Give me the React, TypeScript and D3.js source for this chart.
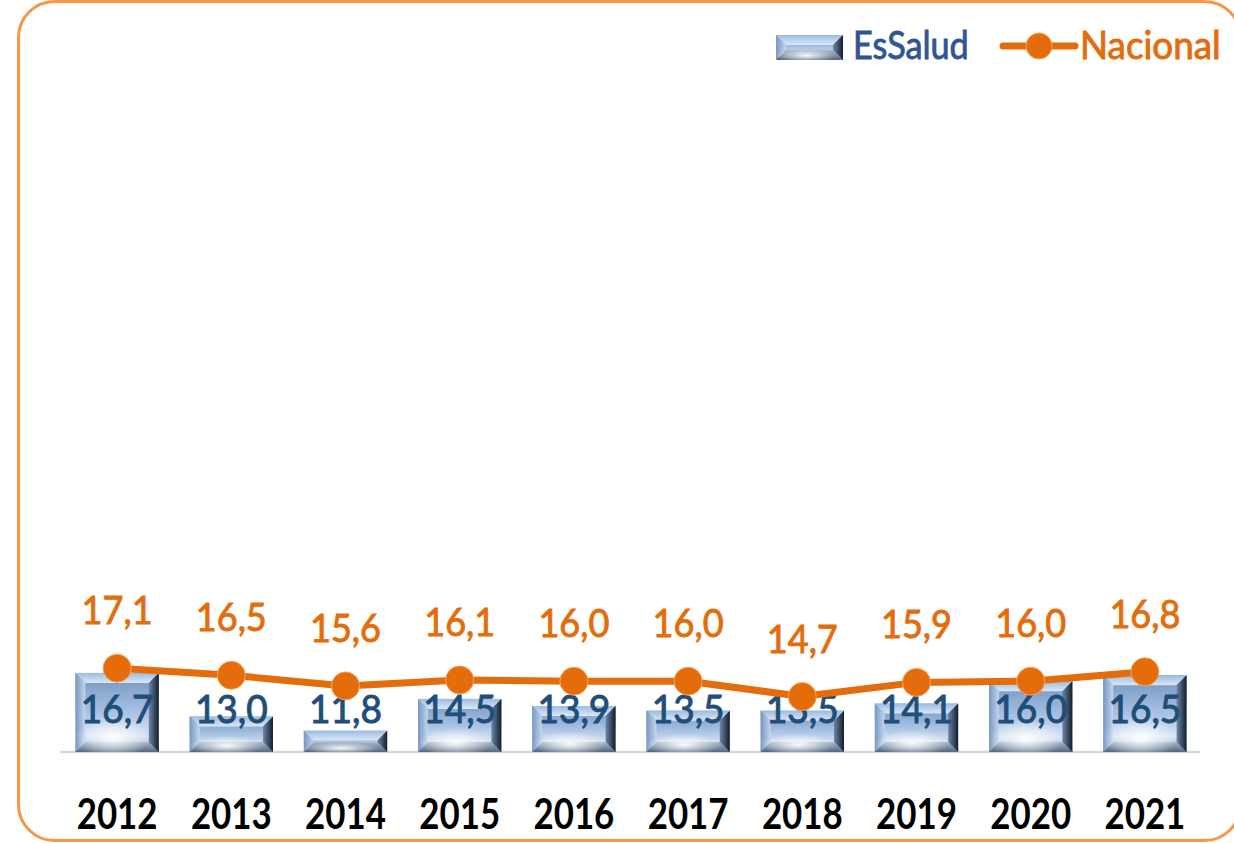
import React from "react";
import * as d3 from "d3";

const years = ["2012", "2013", "2014", "2015", "2016", "2017", "2018", "2019", "2020", "2021"];
const essalud = [16.7, 13.0, 11.8, 14.5, 13.9, 13.5, 13.5, 14.1, 16.0, 16.5];
const nacional = [17.1, 16.5, 15.6, 16.1, 16.0, 16.0, 14.7, 15.9, 16.0, 16.8];
const seriesNames = ["EsSalud", "Nacional"];

const W = 1234;
const H = 843;
const ORANGE = "#E46C0A";
const BLUE_TXT = "#1F4E79";
const FONT = "Lato, 'Open Sans', sans-serif";

const fmt = (v: number) => v.toFixed(1).replace(".", ",");

function Bevel({ x, y, w, h }: { x: number; y: number; w: number; h: number }) {
  const b = Math.min(10, h / 2.2, w / 2.2);
  const pts = (arr: number[][]) => arr.map((p) => p.join(",")).join(" ");
  return (
    <g>
      <rect x={x} y={y} width={w} height={h} fill="url(#faceGrad)" />
      <polygon points={pts([[x, y], [x + w, y], [x + w - b, y + b], [x + b, y + b]])} fill="url(#topGrad)" />
      <polygon points={pts([[x, y], [x + b, y + b], [x + b, y + h - b], [x, y + h]])} fill="url(#leftGrad)" />
      <polygon points={pts([[x, y + h], [x + b, y + h - b], [x + w - b, y + h - b], [x + w, y + h]])} fill="url(#botGrad)" />
      <rect x={x} y={y} width={w} height={h} fill="url(#glow)" />
      <polygon points={pts([[x + w, y], [x + w, y + h], [x + w - b, y + h - b], [x + w - b, y + b]])} fill="url(#rightGrad)" />
    </g>
  );
}

function Label({ x, y, text, size, color, anchor = "middle", sx = 1, weight = "normal", thick = 0 }: any) {
  return (
    <text
      transform={`translate(${x},${y}) scale(${sx},1)`}
      textAnchor={anchor}
      fontSize={size}
      fontWeight={weight}
      fill={color}
      stroke={thick ? color : "none"}
      strokeWidth={thick}
    >
      {text}
    </text>
  );
}

export default function App() {
  const x = d3.scaleBand<string>().domain(years).range([60, 1202]).paddingInner(0.27).paddingOuter(0.135);
  const y = d3.scaleLinear().domain([10, 60]).range([752, 162]);
  const cx = (i: number) => (x(years[i]) as number) + x.bandwidth() / 2;
  const line = d3
    .line<number>()
    .x((_, i) => cx(i))
    .y((d) => y(d));

  return (
    <svg width={W} height={H} style={{ position: "absolute", left: 0, top: 0 }} fontFamily={FONT}>
      <defs>
        <linearGradient id="faceGrad" x1="0" y1="0" x2="0" y2="1">
          <stop offset="0%" stopColor="#7393bd" />
          <stop offset="45%" stopColor="#a2bde0" />
          <stop offset="80%" stopColor="#d6e3f3" />
          <stop offset="100%" stopColor="#8c9fb8" />
        </linearGradient>
        <radialGradient id="glow" cx="0.45" cy="0.82" r="0.45" gradientTransform="translate(0.45,0.82) scale(1,0.6) translate(-0.45,-0.82)">
          <stop offset="0%" stopColor="#ffffff" stopOpacity="0.95" />
          <stop offset="100%" stopColor="#ffffff" stopOpacity="0" />
        </radialGradient>
        <linearGradient id="topGrad" x1="0" y1="0" x2="0" y2="1">
          <stop offset="0%" stopColor="#9dbbe2" />
          <stop offset="100%" stopColor="#dbe7f6" />
        </linearGradient>
        <linearGradient id="leftGrad" x1="0" y1="0" x2="1" y2="0">
          <stop offset="0%" stopColor="#7898c2" />
          <stop offset="100%" stopColor="#c3d6ef" />
        </linearGradient>
        <linearGradient id="rightGrad" x1="0" y1="0" x2="1" y2="0">
          <stop offset="0%" stopColor="#6f86a6" />
          <stop offset="100%" stopColor="#111d2c" />
        </linearGradient>
        <linearGradient id="botGrad" x1="0" y1="0" x2="0" y2="1">
          <stop offset="0%" stopColor="#a5b5c8" />
          <stop offset="100%" stopColor="#56687e" />
        </linearGradient>
      </defs>

      <rect x={18.5} y={1.5} width={1222} height={839} rx={36} ry={36} fill="#ffffff" stroke="#F79646" strokeWidth={3} />

      {/* baseline */}
      <line x1={60} x2={1200} y1={752} y2={752} stroke="#d9d9d9" strokeWidth={2.5} />

      {/* bars */}
      {essalud.map((v, i) => (
        <Bevel key={years[i]} x={x(years[i]) as number} y={y(v)} w={x.bandwidth()} h={y(10) - y(v)} />
      ))}

      {/* bar labels */}
      {essalud.map((v, i) => (
        <Label key={"bl" + i} x={cx(i)} y={723} text={fmt(v)} size={39} color={BLUE_TXT} sx={0.95} thick={1} />
      ))}

      {/* line */}
      <path d={line(nacional) as string} fill="none" stroke={ORANGE} strokeWidth={7} strokeLinejoin="round" />
      {nacional.map((v, i) => (
        <circle key={"c" + i} cx={cx(i)} cy={y(v)} r={14} fill={ORANGE} stroke="#F4A460" strokeWidth={1} />
      ))}
      {nacional.map((v, i) => (
        <Label key={"nl" + i} x={cx(i)} y={y(v) - 44} text={fmt(v)} size={38} color={ORANGE} sx={0.95} thick={0.9} />
      ))}

      {/* x axis labels */}
      {years.map((yr, i) => (
        <Label key={"yl" + yr} x={cx(i)} y={829} text={yr} size={42} color="#000000" sx={0.83} weight="bold" />
      ))}

      {/* legend */}
      <Bevel x={776} y={35} w={67} h={25} />
      <Label x={853} y={59} text={seriesNames[0]} size={38} color="#2F5597" anchor="start" sx={0.9} thick={0.9} />
      <line x1={1003} x2={1075} y1={46} y2={46} stroke={ORANGE} strokeWidth={7} strokeLinecap="round" />
      <circle cx={1039} cy={46} r={13} fill={ORANGE} stroke="#F4A460" strokeWidth={1} />
      <Label x={1080} y={59} text={seriesNames[1]} size={38} color={ORANGE} anchor="start" sx={0.97} thick={0.9} />
    </svg>
  );
}
